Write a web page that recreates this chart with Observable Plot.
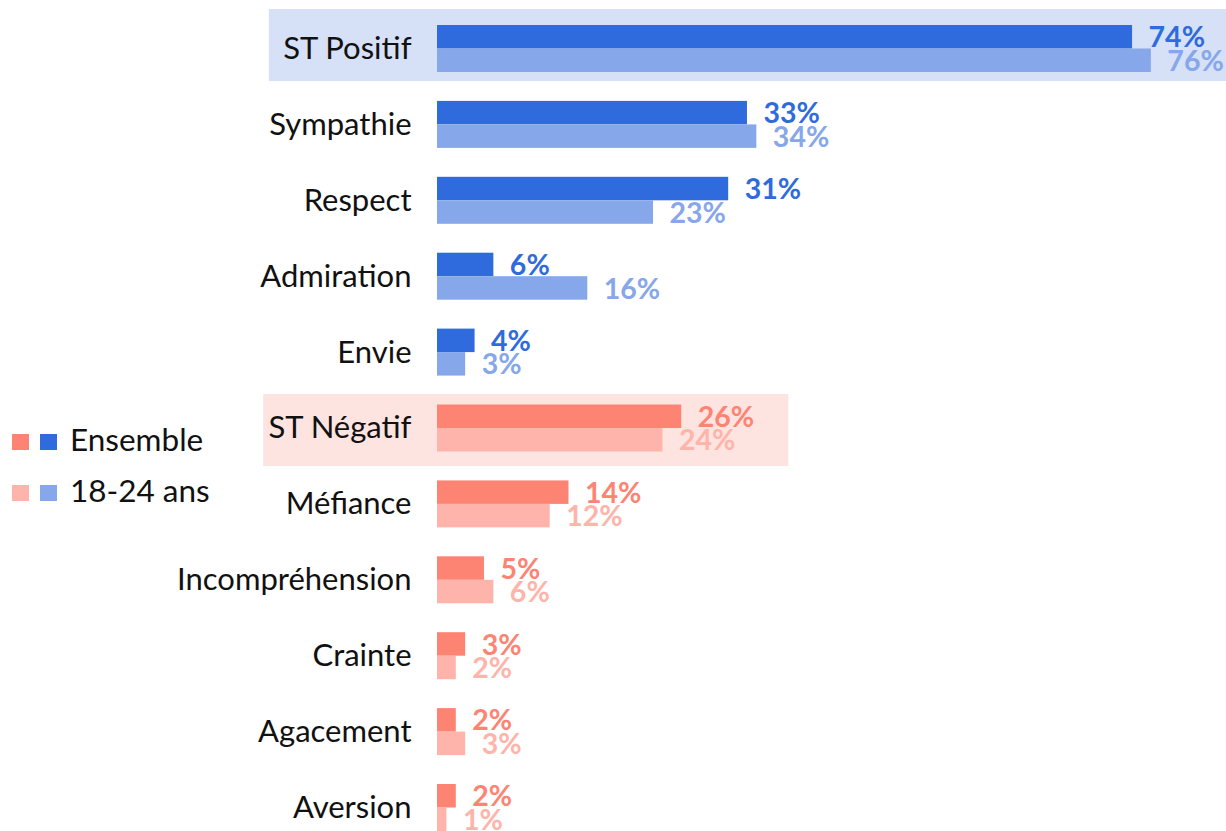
<!DOCTYPE html>
<html><head><meta charset="utf-8">
<script src="https://cdn.jsdelivr.net/npm/d3@7"></script>
<script src="https://cdn.jsdelivr.net/npm/@observablehq/plot@0.6"></script>
<style>
body{margin:0;background:#fff;font-family:Lato,"Noto Sans",sans-serif;}
#wrap{position:relative;width:1226px;height:831px;overflow:hidden;}
#legend{position:absolute;left:12px;top:419px;color:#111;font-size:31.5px;}
.row{display:flex;align-items:center;height:40px;margin-bottom:11px;}
.sw{width:17px;height:16px;margin-right:11px;margin-top:6px;}
.lab{margin-left:2px;}
</style></head><body>
<div id="wrap"><div id="chart"></div><div id="legend"></div></div>
<script>
const categories = ["ST Positif","Sympathie","Respect","Admiration","Envie","ST Négatif","Méfiance","Incompréhension","Crainte","Agacement","Aversion"];
const series = ["Ensemble","18-24 ans"];
const ensemble = [74,33,31,6,4,26,14,5,3,2,2];
const jeunes = [76,34,23,16,3,24,12,6,2,3,1];
const tone = ["pos","pos","pos","pos","pos","neg","neg","neg","neg","neg","neg"];

const palette = {
  pos: {"Ensemble":"#2f6bdc","18-24 ans":"#86a7ea", band:"#d6e0f6"},
  neg: {"Ensemble":"#fd8373","18-24 ans":"#feb4aa", band:"#fde4e0"}
};

const data = categories.flatMap((c,i)=>[
  {cat:c, serie:"Ensemble", value:ensemble[i], tone:tone[i]},
  {cat:c, serie:"18-24 ans", value:jeunes[i], tone:tone[i]}
]);
const col = d => palette[d.tone][d.serie];

const chart = Plot.plot({
  width:1226, height:831,
  marginLeft:437, marginRight:0, marginTop:25, marginBottom:0,
  x:{domain:[0,84], axis:null},
  y:{domain:series, axis:null, padding:0, round:false},
  fy:{domain:categories, paddingInner:0.381, paddingOuter:0, round:false, label:null, axis:null},
  color:{type:"identity"},
  style:{fontFamily:"Lato, 'Noto Sans', sans-serif", fontSize:"31px", color:"#111", background:"transparent"},
  marks:[
    Plot.barX([{cat:"ST Positif"}], {fy:"cat", x1:-17.9, x2:84, fill:palette.pos.band, insetTop:-16, insetBottom:-9}),
    Plot.barX([{cat:"ST Négatif"}], {fy:"cat", x1:-18.5, x2:37.4, fill:palette.neg.band, insetTop:-10.5, insetBottom:-14.5}),
    Plot.axisFy({anchor:"left", tickSize:0, tickPadding:26, label:null, fontSize:31, fill:"#111"}),
    Plot.barX(data, {fy:"cat", y:"serie", x:"value", fill:col}),
    Plot.text(data, {fy:"cat", y:"serie", x:"value", text:d=>d.value+"%", dx:16, dy:1, textAnchor:"start",
      fill:col, fontWeight:700, fontSize:28.5})
  ]
});
document.getElementById("chart").append(chart);

const leg = document.getElementById("legend");
series.forEach(s=>{
  const r = document.createElement("div"); r.className="row";
  ["neg","pos"].forEach(t=>{
    const sw=document.createElement("div"); sw.className="sw"; sw.style.background=palette[t][s]; r.append(sw);
  });
  const l=document.createElement("span"); l.className="lab"; l.textContent=s; r.append(l);
  leg.append(r);
});
</script>
</body></html>
